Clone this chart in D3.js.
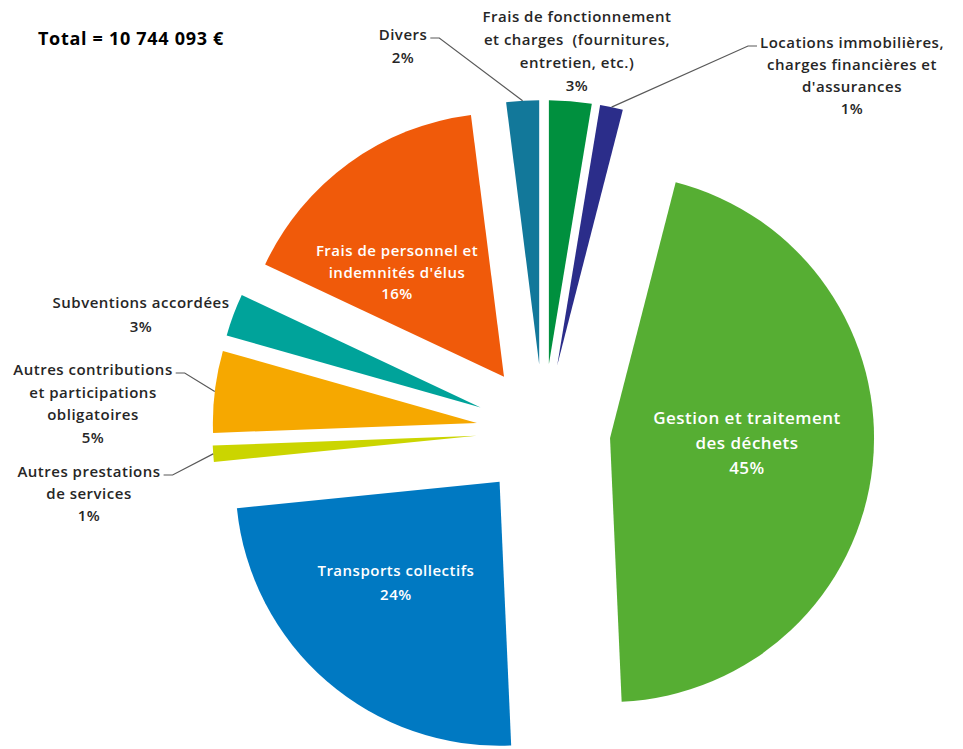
<!DOCTYPE html>
<html><head><meta charset="utf-8">
<script src="https://cdn.jsdelivr.net/npm/d3@7"></script>
<style>
body{margin:0;background:#fff}
svg{display:block}
text{font-family:"Open Sans",Lato,sans-serif;white-space:pre}
</style>
</head><body>
<svg id="chart" width="963" height="749"></svg>
<script>
// ---------- data ----------
const totalLabel = "Total = 10 744 093 €";
const categories = [
  "Frais de fonctionnement et charges (fournitures, entretien, etc.)",
  "Locations immobilières, charges financières et d'assurances",
  "Gestion et traitement des déchets",
  "Transports collectifs",
  "Autres prestations de services",
  "Autres contributions et participations obligatoires",
  "Subventions accordées",
  "Frais de personnel et indemnités d'élus",
  "Divers"
];
const labelLines = [
  ["Frais de fonctionnement", "et charges  (fournitures,", "entretien, etc.)"],
  ["Locations immobilières,", "charges financières et", "d'assurances"],
  ["Gestion et traitement", "des déchets"],
  ["Transports collectifs"],
  ["Autres prestations", "de services"],
  ["Autres contributions", "et participations", "obligatoires"],
  ["Subventions accordées"],
  ["Frais de personnel et", "indemnités d'élus"],
  ["Divers"]
];
const shares = [2.6, 1.4, 45.3, 24.1, 1.0, 5.0, 2.6, 16.0, 2.0]; // % of total

// ---------- styles / layout ----------
const colors = ["#00903E", "#2B2D8A", "#56AE33", "#0079C2", "#CBD500", "#F6A800", "#00A39A", "#F05A0A", "#12789A"];
const cx = 543.4, cy = 431, R = 264, explode = 67;
const outSize = 15, outWeight = 600, spacing = 0.5;

const layout = [
  {type: "out", x: 577, y: 22, lh: 23, leader: null},
  {type: "out", x: 852, y: 48, lh: 22, leader: "left"},
  {type: "in", k: 0.519, dA: -3.8, lh: 25, size: 17},
  {type: "in", k: 0.549, dA: 4.8, lh: 24, size: 15},
  {type: "out", x: 89, y: 477, lh: 22, leader: "right"},
  {type: "out", x: 93, y: 375, lh: 22.5, leader: "right"},
  {type: "out", x: 141, y: 308, lh: 24, leader: null},
  {type: "in", k: 0.5655, dA: -9.8, lh: 21.5, size: 15},
  {type: "out", x: 403, y: 40, lh: 23, leader: "right"}
];

const svg = d3.select("#chart");
svg.append("rect").attr("width", 963).attr("height", 749).attr("fill", "#fff");

const data = categories.map((c, i) => ({name: c, share: shares[i], i}));
const pie = d3.pie().sort(null).value(d => d.share).startAngle(0).endAngle(2 * Math.PI);
const arc = d3.arc().innerRadius(0).outerRadius(R);
const arcs = pie(data);

const fmt = v => Math.round(v) + "%";

const gSlices = svg.append("g");
arcs.forEach(a => {
  const mid = (a.startAngle + a.endAngle) / 2;
  const ox = cx + explode * Math.sin(mid), oy = cy - explode * Math.cos(mid);
  a.ox = ox; a.oy = oy; a.mid = mid;
  gSlices.append("path")
    .attr("transform", `translate(${ox},${oy})`)
    .attr("d", arc(a))
    .attr("fill", colors[a.data.i]);
});

// inside labels
arcs.forEach(a => {
  const L = layout[a.data.i];
  if (L.type !== "in") return;
  const ang = a.mid + L.dA * Math.PI / 180;
  const px = a.ox + L.k * R * Math.sin(ang), py = a.oy - L.k * R * Math.cos(ang);
  const lines = labelLines[a.data.i].concat([fmt(a.data.share)]);
  const n = lines.length;
  const t = svg.append("text")
    .attr("text-anchor", "middle")
    .attr("fill", "#fff")
    .attr("font-weight", 600)
    .attr("letter-spacing", spacing)
    .attr("font-size", L.size);
  lines.forEach((s, j) => {
    t.append("tspan").attr("x", px)
      .attr("y", py + (j - (n - 1) / 2) * L.lh + L.size * 0.35)
      .text(s);
  });
});

// outside labels + leader lines
arcs.forEach(a => {
  const L = layout[a.data.i];
  if (L.type !== "out") return;
  const lines = labelLines[a.data.i].concat([fmt(a.data.share)]);
  const t = svg.append("text")
    .attr("text-anchor", "middle")
    .attr("fill", "#262626")
    .attr("font-weight", outWeight)
    .attr("letter-spacing", spacing)
    .attr("font-size", outSize);
  const spans = lines.map((s, j) => t.append("tspan").attr("x", L.x).attr("y", L.y + j * L.lh).text(s));
  if (L.leader) {
    const w = spans[0].node().getComputedTextLength();
    const ex = a.ox + R * Math.sin(a.mid), ey = a.oy - R * Math.cos(a.mid);
    const ly = L.y - 2;
    let x1, x2;
    if (L.leader === "right") { x1 = L.x + w / 2 + 3; x2 = x1 + 9; }
    else { x1 = L.x - w / 2 - 3; x2 = x1 - 9; }
    svg.append("path")
      .attr("d", d3.line()([[x1, ly], [x2, ly], [ex, ey]]))
      .attr("fill", "none")
      .attr("stroke", "#595959")
      .attr("stroke-width", 1.2);
  }
});

// total
svg.append("text")
  .attr("x", 38).attr("y", 45)
  .attr("font-weight", "bold")
  .attr("font-size", 18)
  .attr("letter-spacing", 0.7)
  .attr("fill", "#000")
  .text(totalLabel);
</script>
</body></html>
